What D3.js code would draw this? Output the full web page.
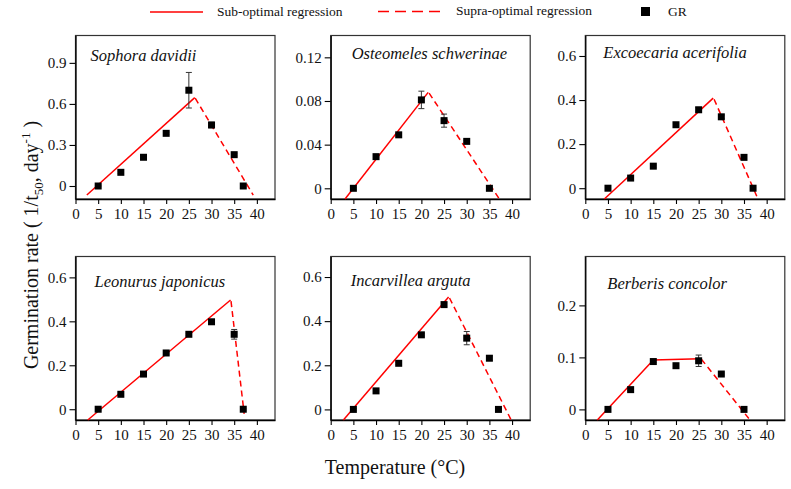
<!DOCTYPE html>
<html>
<head>
<meta charset="utf-8">
<script src="https://cdn.jsdelivr.net/npm/d3@7"></script>
<style>
  body { margin: 0; background: #fff; }
  svg text { font-family: "Liberation Serif", "Times New Roman", serif !important; }
</style>
</head>
<body>
<svg id="chart" width="791" height="489"></svg>
<script>
// values
const species = ["Sophora davidii", "Osteomeles schwerinae", "Excoecaria acerifolia",
                 "Leonurus japonicus", "Incarvillea arguta", "Berberis concolor"];

const tempsLong = [5, 10, 15, 20, 25, 30, 35, 37];
const tempsShort = [5, 10, 15, 20, 25, 30, 35];
const xTicks = [0, 5, 10, 15, 20, 25, 30, 35, 40];

const rateSophora = [0, 0.10, 0.21, 0.385, 0.70, 0.446, 0.229, 0];
const errSophora = [0.005, 0.008, 0.008, 0.008, 0.13, 0.02, 0.01, 0.005];
const rateOsteomeles = [0, 0.029, 0.049, 0.081, 0.062, 0.043, 0];
const errOsteomeles = [0.0008, 0.001, 0.001, 0.008, 0.006, 0.001, 0.0008];
const rateExcoecaria = [0, 0.046, 0.10, 0.288, 0.356, 0.324, 0.14, 0];
const errExcoecaria = [0.004, 0.005, 0.005, 0.008, 0.01, 0.008, 0.005, 0.004];
const rateLeonurus = [0, 0.068, 0.16, 0.256, 0.341, 0.398, 0.341, 0];
const errLeonurus = [0.004, 0.005, 0.005, 0.005, 0.005, 0.005, 0.022, 0.004];
const rateIncarvillea = [0, 0.084, 0.209, 0.338, 0.475, 0.323, 0.232, 0];
const errIncarvillea = [0.004, 0.005, 0.005, 0.005, 0.008, 0.03, 0.01, 0.004];
const rateBerberis = [0, 0.038, 0.092, 0.084, 0.0935, 0.068, 0];
const errBerberis = [0.001, 0.002, 0.002, 0.002, 0.011, 0.002, 0.001];

// regression lines, [temperature, rate] end points
const subSophora = [[2.5, -0.066], [26.3, 0.646]];
const supraSophora = [[26.4, 0.642], [39.2, -0.066]];
const subOsteomeles = [[3.16, -0.0098], [21.5, 0.0879]];
const supraOsteomeles = [[21.7, 0.0872], [37.2, -0.0098]];
const subExcoecaria = [[4.2, -0.049], [28.2, 0.409]];
const supraExcoecaria = [[28.4, 0.404], [37.9, -0.040]];
const subLeonurus = [[2.7, -0.049], [34.2, 0.497]];
const supraLeonurus = [[34.3, 0.492], [37.2, -0.021]];
const subIncarvillea = [[2.8, -0.048], [26.0, 0.509]];
const supraIncarvillea = [[26.2, 0.505], [39.8, -0.048]];
const subBerberis = [[2.65, -0.0204], [15.0, 0.095], [25.3, 0.0975]];
const supraBerberis = [[25.6, 0.0965], [36.1, -0.018]];

const yTicksA = [0, 0.3, 0.6, 0.9];
const yTicksB = [0, 0.04, 0.08, 0.12];
const yTicksC = [0, 0.2, 0.4, 0.6];
const yTicksD = [0, 0.1, 0.2];

const panels = [
    {name: species[0], t: tempsLong, r: rateSophora, e: errSophora, sub: subSophora, supra: supraSophora, ticks: yTicksA, dom: [-0.095, 1.1]},
    {name: species[1], t: tempsShort, r: rateOsteomeles, e: errOsteomeles, sub: subOsteomeles, supra: supraOsteomeles, ticks: yTicksB, dom: [-0.0098, 0.14]},
    {name: species[2], t: tempsLong, r: rateExcoecaria, e: errExcoecaria, sub: subExcoecaria, supra: supraExcoecaria, ticks: yTicksC, dom: [-0.049, 0.693]},
    {name: species[3], t: tempsLong, r: rateLeonurus, e: errLeonurus, sub: subLeonurus, supra: supraLeonurus, ticks: yTicksC, dom: [-0.049, 0.695]},
    {name: species[4], t: tempsLong, r: rateIncarvillea, e: errIncarvillea, sub: subIncarvillea, supra: supraIncarvillea, ticks: yTicksC, dom: [-0.048, 0.693]},
    {name: species[5], t: tempsShort, r: rateBerberis, e: errBerberis, sub: subBerberis, supra: supraBerberis, ticks: yTicksD, dom: [-0.0204, 0.294]}
];

const svg = d3.select("#chart");
const colX = [75.5, 330.7, 585.3];
const rowY = [35.5, 256.5];
const pw = 199.5, ph = 163.5;
const red = "#ff0000";

const x = d3.scaleLinear().domain([0, 44]).range([0, pw]);
const line = d3.line().x(d => x(d[0]));

panels.forEach((p, i) => {
    const g = svg.append("g")
        .attr("transform", "translate(" + colX[i % 3] + "," + rowY[Math.floor(i / 3)] + ")");
    const y = d3.scaleLinear().domain(p.dom).range([ph, 0]);
    line.y(d => y(d[1]));

    // frame
    g.append("rect")
        .attr("width", pw).attr("height", ph)
        .attr("fill", "none").attr("stroke", "#333").attr("stroke-width", 1.2);

    // axes
    const xa = g.append("g").attr("transform", "translate(0," + ph + ")")
        .call(d3.axisBottom(x).tickValues(xTicks).tickSize(5).tickPadding(4).tickSizeOuter(0));
    const ya = g.append("g")
        .call(d3.axisLeft(y).tickValues(p.ticks).tickFormat(d => String(d)).tickSize(6).tickPadding(3).tickSizeOuter(0));
    [xa, ya].forEach(a => {
        a.attr("font-family", null);
        a.select(".domain").attr("stroke", "#000").attr("stroke-width", 1.3);
        a.selectAll(".tick line").attr("stroke", "#000").attr("stroke-width", 1.1);
        a.selectAll("text").attr("font-size", 15).attr("fill", "#111");
    });

    // regression lines
    g.append("path").datum(p.sub).attr("d", line)
        .attr("fill", "none").attr("stroke", red).attr("stroke-width", 1.5);
    g.append("path").datum(p.supra).attr("d", line)
        .attr("fill", "none").attr("stroke", red).attr("stroke-width", 1.5)
        .attr("stroke-dasharray", "6,4");

    const pts = p.t.map((t, j) => ({t: t, r: p.r[j], e: p.e[j]}));

    // error bars
    const eb = g.selectAll(".eb").data(pts).enter().append("g").attr("class", "eb")
        .attr("stroke", "#333").attr("stroke-width", 1);
    eb.append("line")
        .attr("x1", d => x(d.t)).attr("x2", d => x(d.t))
        .attr("y1", d => y(d.r + d.e)).attr("y2", d => y(d.r - d.e));
    eb.append("line")
        .attr("x1", d => x(d.t) - 3).attr("x2", d => x(d.t) + 3)
        .attr("y1", d => y(d.r + d.e)).attr("y2", d => y(d.r + d.e));
    eb.append("line")
        .attr("x1", d => x(d.t) - 3).attr("x2", d => x(d.t) + 3)
        .attr("y1", d => y(d.r - d.e)).attr("y2", d => y(d.r - d.e));

    // GR points
    g.selectAll(".pt").data(pts).enter().append("rect").attr("class", "pt")
        .attr("x", d => x(d.t) - 3.5).attr("y", d => y(d.r) - 3.5)
        .attr("width", 7).attr("height", 7).attr("fill", "#000");

    // species name
    const titleX = [15, 21, 18, 19, 20, 22];
    const titleY = [25, 23.5, 22.5, 30.5, 29, 32];
    g.append("text")
        .attr("x", titleX[i]).attr("y", titleY[i])
        .attr("font-style", "italic").attr("font-size", 16.5).attr("fill", "#111")
        .text(p.name);
});

// legend
const leg = svg.append("g").attr("font-size", 13.5).attr("fill", "#111");
leg.append("line").attr("x1", 150).attr("x2", 203).attr("y1", 12).attr("y2", 12)
    .attr("stroke", red).attr("stroke-width", 1.5);
leg.append("text").attr("x", 217).attr("y", 16).text("Sub-optimal regression");
leg.append("line").attr("x1", 378).attr("x2", 440).attr("y1", 11.5).attr("y2", 11.5)
    .attr("stroke", red).attr("stroke-width", 1.5).attr("stroke-dasharray", "11,6");
leg.append("text").attr("x", 456).attr("y", 15).text("Supra-optimal regression");
leg.append("rect").attr("x", 641).attr("y", 7).attr("width", 9).attr("height", 9).attr("fill", "#000");
leg.append("text").attr("x", 668).attr("y", 16).text("GR");

// axis titles
const yt = svg.append("text")
    .attr("transform", "translate(38,245) rotate(-90)")
    .attr("text-anchor", "middle").attr("font-size", 20).attr("fill", "#111");
yt.append("tspan").text("Germination rate ( 1/t");
yt.append("tspan").attr("font-size", 13).attr("dy", 5).text("50");
yt.append("tspan").attr("dy", -5).text(", day");
yt.append("tspan").attr("font-size", 13).attr("dy", -8).text("-1");
yt.append("tspan").attr("dy", 8).text(" )");

svg.append("text")
    .attr("x", 395).attr("y", 474)
    .attr("text-anchor", "middle").attr("font-size", 20).attr("fill", "#111")
    .text("Temperature (°C)");
</script>
</body>
</html>
